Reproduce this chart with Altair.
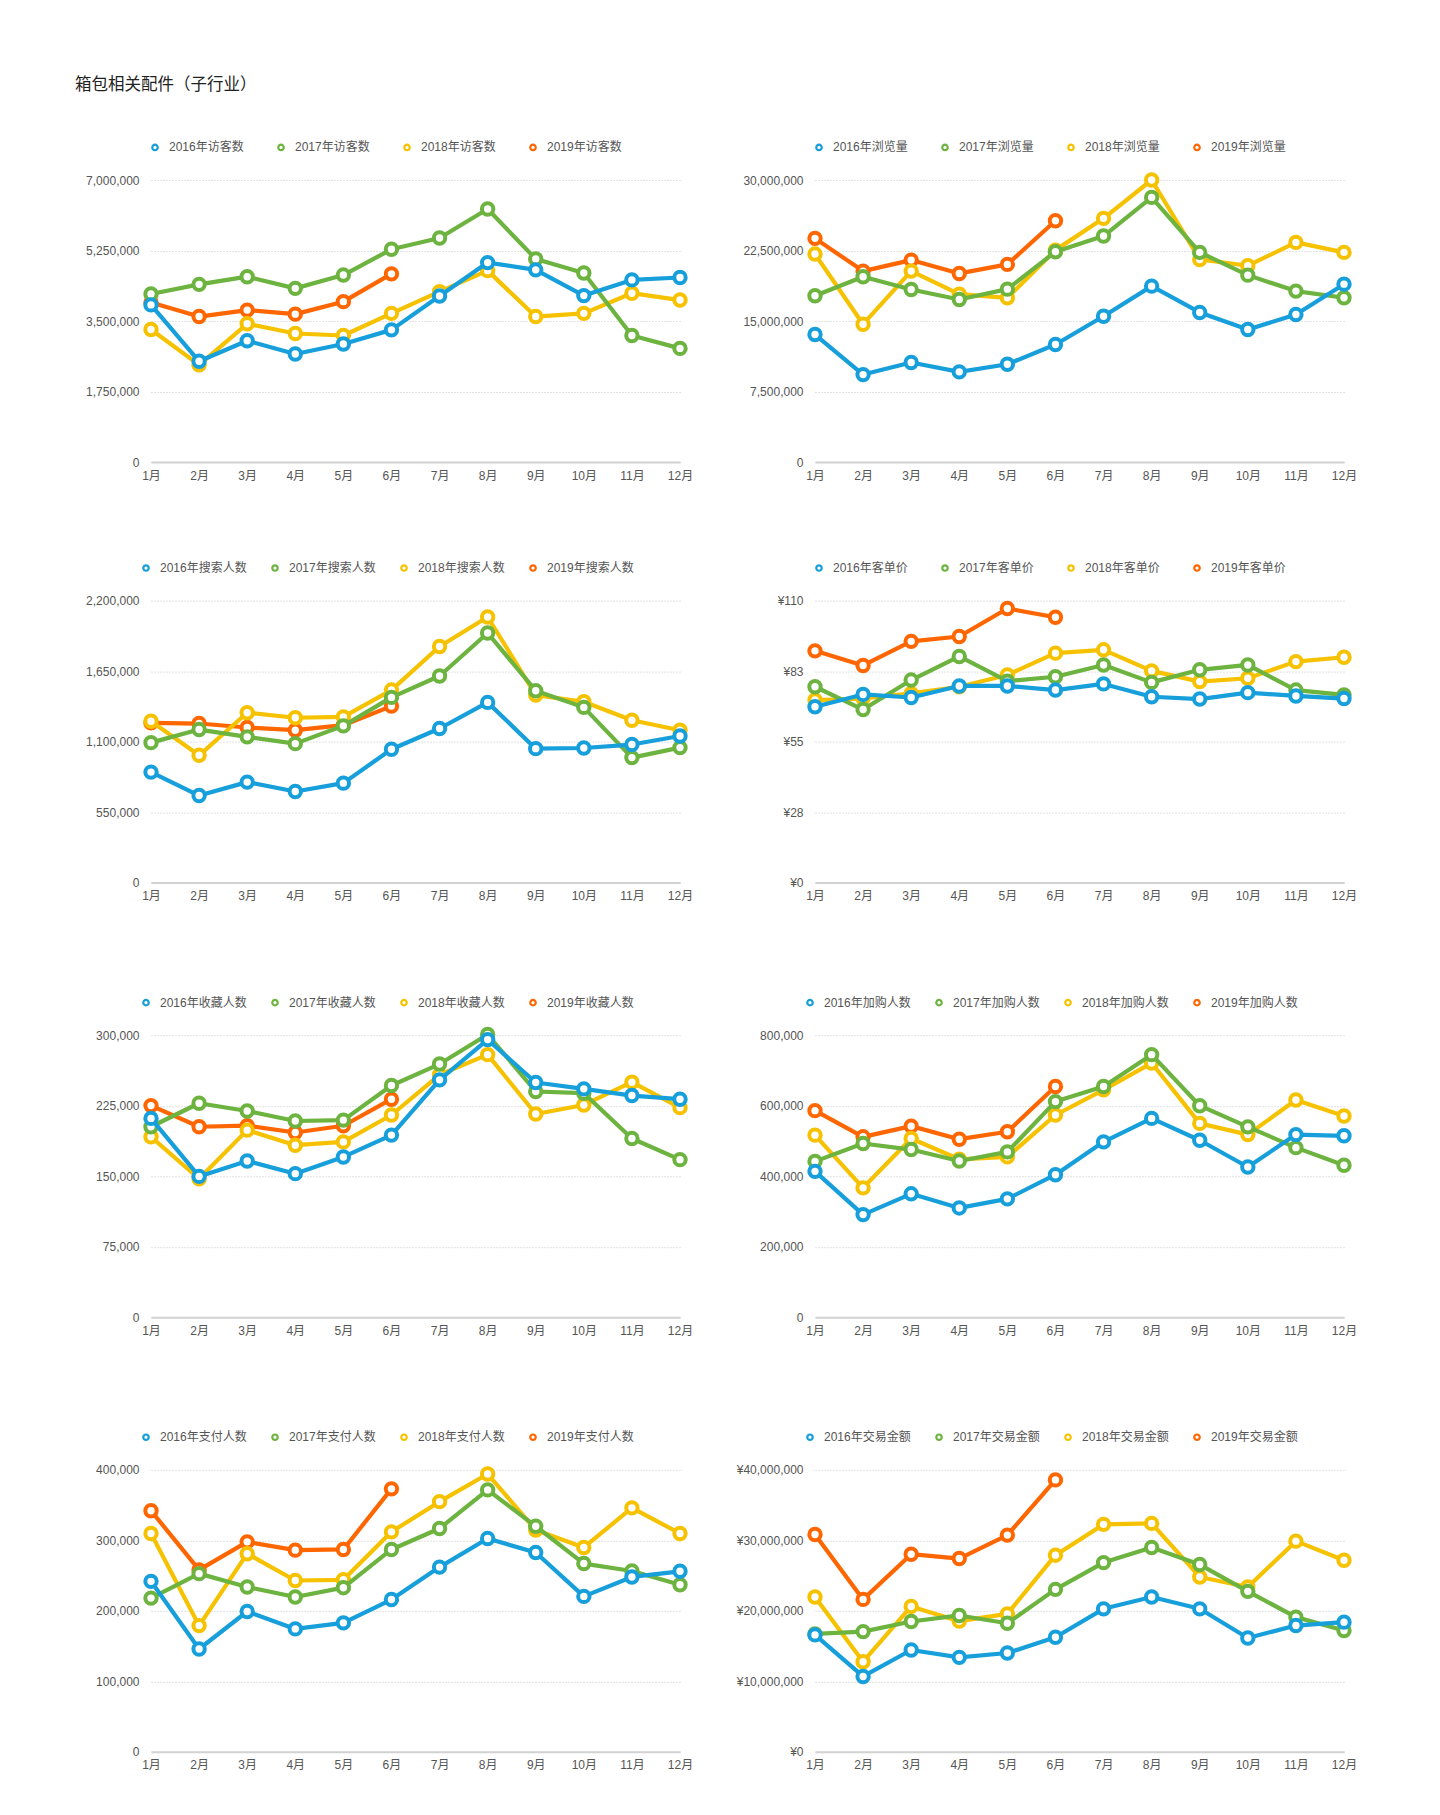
import altair as alt
import pandas as pd

MONTHS = ["1月", "2月", "3月", "4月", "5月", "6月", "7月", "8月", "9月", "10月", "11月", "12月"]
YEARS = ["2016年", "2017年", "2018年", "2019年"]
COLORS = ["#169fdb", "#6cb33f", "#f6c200", "#ff6600"]
FONT = "Liberation Sans, Noto Sans CJK SC, sans-serif"
TITLE = "箱包相关配件（子行业）"

# 访客数
visitors_2016 = [3900000, 2500000, 3010000, 2680000, 2930000, 3280000, 4120000, 4950000, 4770000, 4130000, 4520000, 4580000]
visitors_2017 = [4170000, 4410000, 4600000, 4310000, 4640000, 5280000, 5560000, 6280000, 5040000, 4690000, 3140000, 2820000]
visitors_2018 = [3290000, 2410000, 3430000, 3190000, 3140000, 3690000, 4230000, 4750000, 3610000, 3690000, 4190000, 4020000]
visitors_2019 = [3960000, 3610000, 3770000, 3670000, 3980000, 4670000]

# 浏览量
views_2016 = [13560000, 9300000, 10580000, 9590000, 10400000, 12500000, 15510000, 18710000, 15910000, 14090000, 15690000, 18920000]
views_2017 = [17680000, 19700000, 18350000, 17290000, 18390000, 22370000, 24040000, 28150000, 22300000, 19880000, 18180000, 17470000]
views_2018 = [22120000, 14660000, 20310000, 17860000, 17470000, 22540000, 25920000, 30000000, 21550000, 20880000, 23360000, 22300000]
views_2019 = [23790000, 20310000, 21480000, 20060000, 21020000, 25670000]

# 搜索人数
search_2016 = [862000, 679000, 784000, 711000, 776000, 1040000, 1202000, 1406000, 1045000, 1050000, 1077000, 1144000]
search_2017 = [1092000, 1194000, 1137000, 1084000, 1223000, 1445000, 1612000, 1947000, 1497000, 1367000, 975000, 1053000]
search_2018 = [1259000, 993000, 1325000, 1286000, 1293000, 1502000, 1842000, 2072000, 1463000, 1411000, 1267000, 1189000]
search_2019 = [1246000, 1241000, 1210000, 1189000, 1228000, 1377000]

# 客单价
price_2016 = [68.6, 73.4, 72.2, 76.7, 76.7, 75.1, 77.5, 72.5, 71.6, 74.1, 72.8, 71.8]
price_2017 = [76.4, 67.5, 79.0, 88.2, 78.6, 80.3, 84.9, 78.1, 83.0, 84.9, 75.1, 73.2]
price_2018 = [71.2, 71.8, 73.8, 76.4, 81.0, 89.5, 90.8, 82.6, 78.4, 79.7, 86.2, 87.9]
price_2019 = [90.4, 84.7, 94.1, 96.0, 106.9, 103.5]

# 收藏人数
fav_2016 = [211500, 149800, 166200, 152700, 170500, 193700, 252500, 295300, 249700, 242900, 235800, 231900]
fav_2017 = [202600, 227600, 219400, 208700, 209700, 246500, 269300, 300700, 240100, 238300, 190100, 167600]
fav_2018 = [191900, 147300, 199000, 183000, 186500, 215100, 257900, 279300, 216200, 225800, 250000, 222900]
fav_2019 = [225100, 202600, 203700, 196500, 203700, 231900]

# 加购人数
cart_2016 = [413800, 291100, 350000, 310000, 335800, 404300, 497500, 564000, 502000, 426000, 518000, 514600]
cart_2017 = [442000, 492700, 475600, 443000, 469000, 611600, 654400, 744800, 600000, 540000, 481000, 431000]
cart_2018 = [516500, 367000, 507000, 448000, 454700, 573600, 645000, 721000, 549800, 518000, 616000, 570700]
cart_2019 = [586000, 511700, 542000, 505000, 526000, 654400]

# 支付人数
pay_2016 = [241800, 145800, 199000, 174300, 182900, 216000, 262000, 302600, 282600, 220400, 248000, 256000]
pay_2017 = [218000, 252700, 233700, 219500, 232800, 287000, 316800, 371500, 320000, 267000, 256500, 237000]
pay_2018 = [309700, 179000, 281000, 243000, 244000, 312000, 354800, 394000, 314500, 289800, 346000, 309700]
pay_2019 = [342000, 258000, 297800, 286000, 287000, 373000]

# 交易金额
gmv_2016 = [16580000, 10690000, 14440000, 13400000, 14010000, 16250000, 20280000, 21950000, 20280000, 16150000, 17910000, 18390000]
gmv_2017 = [16720000, 17050000, 18480000, 19340000, 18240000, 23040000, 26840000, 28980000, 26560000, 22760000, 19100000, 17200000]
gmv_2018 = [21950000, 12780000, 20620000, 18530000, 19570000, 27890000, 32260000, 32400000, 24800000, 23370000, 29880000, 27170000]
gmv_2019 = [30830000, 21620000, 28030000, 27410000, 30740000, 38570000]

# metric, series, y max, yen labels
PANELS = [
    ("访客数", [visitors_2016, visitors_2017, visitors_2018, visitors_2019], 7000000, False),
    ("浏览量", [views_2016, views_2017, views_2018, views_2019], 30000000, False),
    ("搜索人数", [search_2016, search_2017, search_2018, search_2019], 2200000, False),
    ("客单价", [price_2016, price_2017, price_2018, price_2019], 110, True),
    ("收藏人数", [fav_2016, fav_2017, fav_2018, fav_2019], 300000, False),
    ("加购人数", [cart_2016, cart_2017, cart_2018, cart_2019], 800000, False),
    ("支付人数", [pay_2016, pay_2017, pay_2018, pay_2019], 400000, False),
    ("交易金额", [gmv_2016, gmv_2017, gmv_2018, gmv_2019], 40000000, True),
]

X_EXTENT = [30, 44, 44, 30]
Y_EXTENT = [66, 80]
WIDTHS = [529, 529]
HEIGHT = 282


def make_panel(idx, metric, series, ymax, yen):
    row, col = divmod(idx, 2)
    labels = [y + metric for y in YEARS]
    long_label = len(labels[0]) > 8
    legend = alt.Legend(
        orient="none",
        legendX=-11 if long_label else -2,
        legendY=-39,
        direction="horizontal",
        title=None,
        symbolType="circle",
        symbolSize=30,
        symbolStrokeWidth=2.2,
        symbolFillColor="white",
        labelFontSize=12,
        labelColor="#555555",
        labelFont=FONT,
        labelOffset=8,
        columnPadding=20 if long_label else 29,
        padding=0,
    )
    q = ymax / 4
    ticks = [0, q, 2 * q, 3 * q, ymax]
    yaxis_kw = dict(
        values=ticks,
        grid=True,
        gridDash=[1, 2],
        gridColor="#c4c4c4",
        gridWidth=1,
        domain=False,
        ticks=False,
        labelPadding=12,
        labelFontSize=12,
        labelColor="#555555",
        labelFont=FONT,
        title=None,
        minExtent=Y_EXTENT[col],
        maxExtent=Y_EXTENT[col],
    )
    if yen:
        yaxis_kw["labelExpr"] = "'¥' + format(datum.value, ',.0f')"
    else:
        yaxis_kw["format"] = ",d"
    yaxis = alt.Axis(**yaxis_kw)
    xaxis = alt.Axis(
        labelAngle=0,
        ticks=False,
        domain=True,
        domainColor="#d2d2d2",
        domainWidth=2,
        grid=False,
        labelPadding=8,
        labelFontSize=12,
        labelColor="#555555",
        labelFont=FONT,
        title=None,
        minExtent=X_EXTENT[row],
        maxExtent=X_EXTENT[row],
    )
    layers = []
    for i in reversed(range(4)):
        vals = series[i]
        df = pd.DataFrame({"month": MONTHS[: len(vals)], "value": vals, "series": labels[i]})
        base = alt.Chart(df).encode(
            x=alt.X("month:O", scale=alt.Scale(domain=MONTHS, padding=0), axis=xaxis),
            y=alt.Y("value:Q", scale=alt.Scale(domain=[0, ymax], nice=False), axis=yaxis),
            color=alt.Color("series:N", scale=alt.Scale(domain=labels, range=COLORS), legend=legend),
        )
        layers.append(base.mark_line(strokeWidth=4.2, strokeJoin="round", strokeCap="round"))
        layers.append(base.mark_point(filled=False, fill="white", size=130, strokeWidth=4, opacity=1))
    return alt.layer(*layers).properties(width=WIDTHS[col], height=HEIGHT)


panels = [make_panel(i, *p) for i, p in enumerate(PANELS)]

chart = (
    alt.concat(
        *panels,
        columns=2,
        spacing={"row": 69.6, "column": 41},
        align="each",
        bounds="full",
        title=alt.TitleParams(
            TITLE,
            anchor="start",
            frame="bounds",
            dx=-10,
            offset=47.5,
            fontSize=16.5,
            font=FONT,
            fontWeight="normal",
            color="#222222",
        ),
    )
    .resolve_scale(color="independent")
    .resolve_legend(color="independent")
    .properties(padding={"left": 67, "top": 69, "right": 20, "bottom": 20}, background="white")
    .configure_view(stroke=None)
)

chart.save("out.html", embed_options={"renderer": "svg", "actions": False})
